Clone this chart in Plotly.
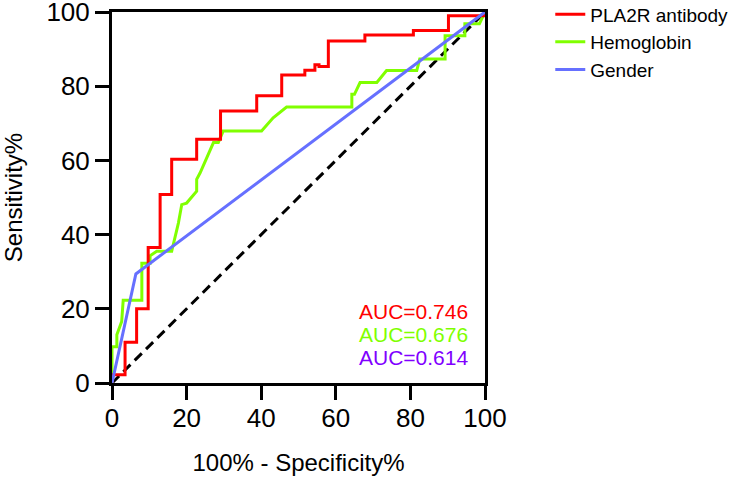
import plotly.graph_objects as go

# ROC curve data (x = 100% - Specificity%, y = Sensitivity%)
pla2r_x = [0, 0, 3.5, 3.5, 6.6, 6.6, 9.7, 9.7, 12.9, 12.9, 16.0, 16.0, 22.7, 22.7, 29.1, 29.1,
           38.8, 38.8, 45.5, 45.5, 51.7, 51.7, 54.4, 54.4, 55.5, 55.5, 58.0, 58.0, 67.8, 67.8,
           80.8, 80.8, 90.2, 90.2, 100, 100]
pla2r_y = [0, 2.2, 2.2, 11.0, 11.0, 20.0, 20.0, 36.5, 36.5, 50.8, 50.8, 60.3, 60.3, 65.7, 65.7, 73.3,
           73.3, 77.4, 77.4, 83.0, 83.0, 84.3, 84.3, 85.8, 85.8, 85.3, 85.3, 92.2, 92.2, 93.8,
           93.8, 95.0, 95.0, 99.0, 99.0, 100]

hemo_x = [0, 0, 1.3, 1.3, 2.6, 3.0, 8.0, 8.0, 10.2, 10.2, 12.0, 16.0, 17.8, 18.7, 20.0, 20.9,
          22.7, 22.7, 23.6, 27.2, 28.5, 29.8, 40.1, 43.2, 46.8, 64.3, 64.3, 65.0, 66.5, 71.0,
          73.6, 81.7, 82.5, 89.3, 89.3, 94.6, 94.6, 98.5, 100]
hemo_y = [0, 9.8, 9.8, 13.0, 16.6, 22.3, 22.3, 32.3, 32.3, 34.3, 35.5, 35.5, 43.1, 48.1, 48.5, 49.5,
          51.7, 54.9, 56.6, 64.8, 64.8, 67.9, 67.9, 71.5, 74.4, 74.4, 77.8, 77.8, 81.0, 81.0,
          84.2, 84.2, 87.3, 87.3, 93.6, 93.6, 96.8, 96.8, 100]

gender_x = [0, 6.4, 100]
gender_y = [0, 29.4, 100]

ref_x = [0, 100]
ref_y = [0, 100]

auc_labels = ["AUC=0.746", "AUC=0.676", "AUC=0.614"]
auc_colors = ["#FF0000", "#80FF00", "#8000FF"]
auc_ypos = [0.194, 0.132, 0.070]

tick_vals = [0, 20, 40, 60, 80, 100]

FONT = "Liberation Sans, Arial, sans-serif"

fig = go.Figure()
fig.add_trace(go.Scatter(x=ref_x, y=ref_y, mode="lines", showlegend=False,
                         line=dict(color="black", width=3, dash="10px,6px")))
fig.add_trace(go.Scatter(x=hemo_x, y=hemo_y, mode="lines", name="Hemoglobin", legendrank=2,
                         legendgroup="b", line=dict(color="#80FF00", width=3)))
fig.add_trace(go.Scatter(x=pla2r_x, y=pla2r_y, mode="lines", name="PLA2R antibody", legendrank=1,
                         legendgroup="a", line=dict(color="#FF0000", width=3)))
fig.add_trace(go.Scatter(x=gender_x, y=gender_y, mode="lines", name="Gender", legendrank=3,
                         legendgroup="c", line=dict(color="#6670FF", width=3)))

for txt, col, yp in zip(auc_labels, auc_colors, auc_ypos):
    fig.add_annotation(x=0.96, y=yp, xref="paper", yref="paper", text=txt, showarrow=False,
                       xanchor="right", yanchor="middle", font=dict(size=21, color=col, family=FONT))

axis_common = dict(range=[0, 100], tickvals=tick_vals, ticks="outside", ticklen=14, tickwidth=3,
                   tickcolor="black", showline=True, linewidth=3, linecolor="black", mirror=True,
                   showgrid=False, zeroline=False, ticklabeloverflow="allow",
                   tickfont=dict(size=26, color="black", family=FONT))

fig.update_xaxes(**axis_common, ticklabelstandoff=-4,
                 title=dict(text="100% - Specificity%", standoff=22,
                            font=dict(size=24, color="black", family=FONT)))
fig.update_yaxes(**axis_common,
                 title=dict(text="Sensitivity%", standoff=33,
                            font=dict(size=24, color="black", family=FONT)))

fig.update_layout(
    width=735, height=478,
    margin=dict(l=112, r=250, t=12, b=95, autoexpand=False),
    plot_bgcolor="white", paper_bgcolor="white",
    legend=dict(x=1.175, y=1.045, xanchor="left", yanchor="top", traceorder="grouped",
                tracegroupgap=0, font=dict(size=19, color="black", family=FONT),
                bgcolor="rgba(0,0,0,0)"),
)

fig.write_html("out.html", config={"displayModeBar": False},
               post_script="document.body.style.margin='0';")
